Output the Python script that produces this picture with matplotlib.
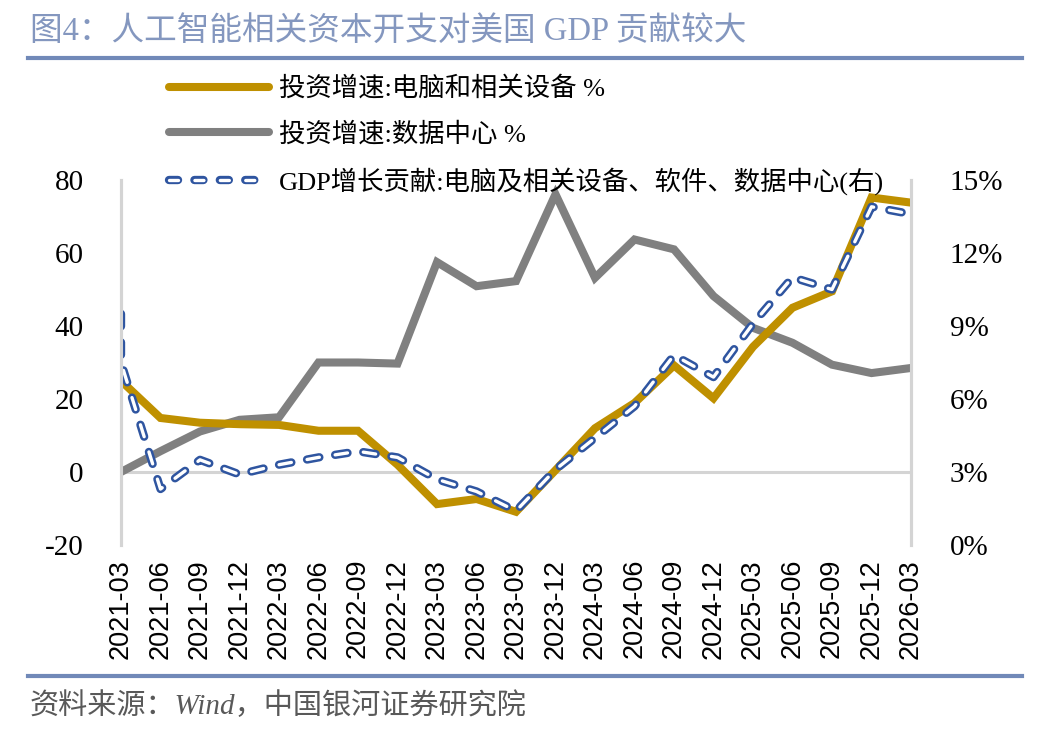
import matplotlib
matplotlib.use("Agg")
import matplotlib.pyplot as plt
from matplotlib.lines import Line2D

plt.rcParams['font.family'] = ['Liberation Serif', 'Noto Sans CJK SC']
plt.rcParams['lines.scale_dashes'] = False
plt.rcParams['axes.unicode_minus'] = False

# données
quarters = ["2021-03", "2021-06", "2021-09", "2021-12", "2022-03", "2022-06", "2022-09",
            "2022-12", "2023-03", "2023-06", "2023-09", "2023-12", "2024-03", "2024-06",
            "2024-09", "2024-12", "2025-03", "2025-06", "2025-09", "2025-12", "2026-03"]
equip_growth = [25, 14.8, 13.5, 13.1, 12.9, 11.3, 11.3, 2.0, -8.8, -7.4, -10.9, 0.5,
                12.0, 18.9, 29.2, 20.2, 34.3, 45.0, 49.5, 75.2, 73.8]
dc_growth = [0, 5.7, 11.1, 14.3, 15.0, 30.0, 30.0, 29.7, 57.5, 50.9, 52.3, 76.1,
             53.2, 63.7, 61.0, 48.2, 39.5, 35.4, 29.4, 27.1, 28.5]
# la série GDP a deux points sur 2021-03
gdp_quarters = ["2021-03"] + quarters
gdp_contrib = [9.5, 7.5, 2.3, 3.5, 2.9, 3.3, 3.6, 3.85, 3.6, 2.7, 2.2, 1.4, 3.1,
               4.4, 5.7, 7.8, 6.9, 9.1, 11.0, 10.5, 13.9, 13.6]

left_ticks = [-20, 0, 20, 40, 60, 80]
right_ticks = [0, 3, 6, 9, 12, 15]

labels = ["投资增速:电脑和相关设备 %", "投资增速:数据中心 %",
          "GDP增长贡献:电脑及相关设备、软件、数据中心(右)"]
title = "图4：人工智能相关资本开支对美国 GDP 贡献较大"
source = "资料来源：Wind，中国银河证券研究院"

GOLD = "#BF9000"
GREY = "#808080"
BLUE = "#2F55A0"
AXIS_GREY = "#D4D4D4"
RULE = "#7189B8"

W, H = 1045, 732
fig = plt.figure(figsize=(W / 100, H / 100), dpi=100)
ax = fig.add_axes([121 / W, 1 - 545 / H, (911 - 121) / W, (545 - 180) / H])
ax2 = ax.twinx()

x = list(range(len(quarters)))
x_gdp = [quarters.index(q) for q in gdp_quarters]

ax.axhline(0, color=AXIS_GREY, lw=2.2, zorder=1)
ax.plot(x, dc_growth, color=GREY, lw=5.8, solid_joinstyle="miter", zorder=2)
ax.plot(x, equip_growth, color=GOLD, lw=5.8, solid_joinstyle="miter", zorder=3)

dash = (9.0, 11.5)
OUT_LW, IN_LW = 6.0, 2.4
ax2.plot(x_gdp, gdp_contrib, color=BLUE, lw=OUT_LW, dashes=dash, dash_capstyle="round")
ax2.plot(x_gdp, gdp_contrib, color="white", lw=IN_LW, dashes=dash, dash_capstyle="round")

ax.set_xlim(0, len(quarters) - 1)
ax.set_ylim(-20, 80)
ax2.set_ylim(0, 15)
ax.set_yticks(left_ticks)
ax.set_yticklabels([str(v) for v in left_ticks])
ax2.set_yticks(right_ticks)
ax2.set_yticklabels([f"{v}%" for v in right_ticks])
ax.set_xticks(x)
ax.set_xticklabels(quarters, rotation=90, family="Liberation Sans", fontsize=19.5)

for a in (ax, ax2):
    for side in ("top", "bottom"):
        a.spines[side].set_visible(False)
    for side in ("left", "right"):
        a.spines[side].set_color(AXIS_GREY)
        a.spines[side].set_linewidth(2.2)
    a.tick_params(length=0)
ax.tick_params(axis="y", labelsize=21, pad=27)
ax2.tick_params(axis="y", labelsize=21, pad=28)
ax.tick_params(axis="x", pad=10)
ax.patch.set_visible(False)

# légende
leg_dash = (6.5, 11.8)
h_gold = Line2D([], [], color=GOLD, lw=5.8, solid_capstyle="round")
h_grey = Line2D([], [], color=GREY, lw=5.8, solid_capstyle="round")
h_out = Line2D([], [], color=BLUE, lw=OUT_LW, dashes=leg_dash, dash_capstyle="round")
h_in = Line2D([], [], color="white", lw=IN_LW, dashes=leg_dash, dash_capstyle="round")
fig.legend([h_gold, h_grey, (h_out, h_in)], labels, loc="upper left",
           bbox_to_anchor=(169 / W, 1 - 76 / H), frameon=False, fontsize=19,
           borderpad=0, borderaxespad=0, handlelength=3.8, handletextpad=0.35,
           labelspacing=0.78)

# titre, filets et source
fig.text(30 / W, 1 - 31 / H, title, fontsize=23.5, color="#8497BF", va="center", ha="left")
fig.add_artist(Line2D([28 / W, 1022 / W], [1 - 58 / H] * 2, color=RULE, lw=3,
                      transform=fig.transFigure))
fig.add_artist(Line2D([28 / W, 1022 / W], [1 - 676 / H] * 2, color=RULE, lw=3,
                      transform=fig.transFigure))
fig.text(30 / W, 1 - 706 / H, source, fontsize=21, style="italic", color="#595959",
         va="center", ha="left")

fig.savefig("out.png", dpi=100)
